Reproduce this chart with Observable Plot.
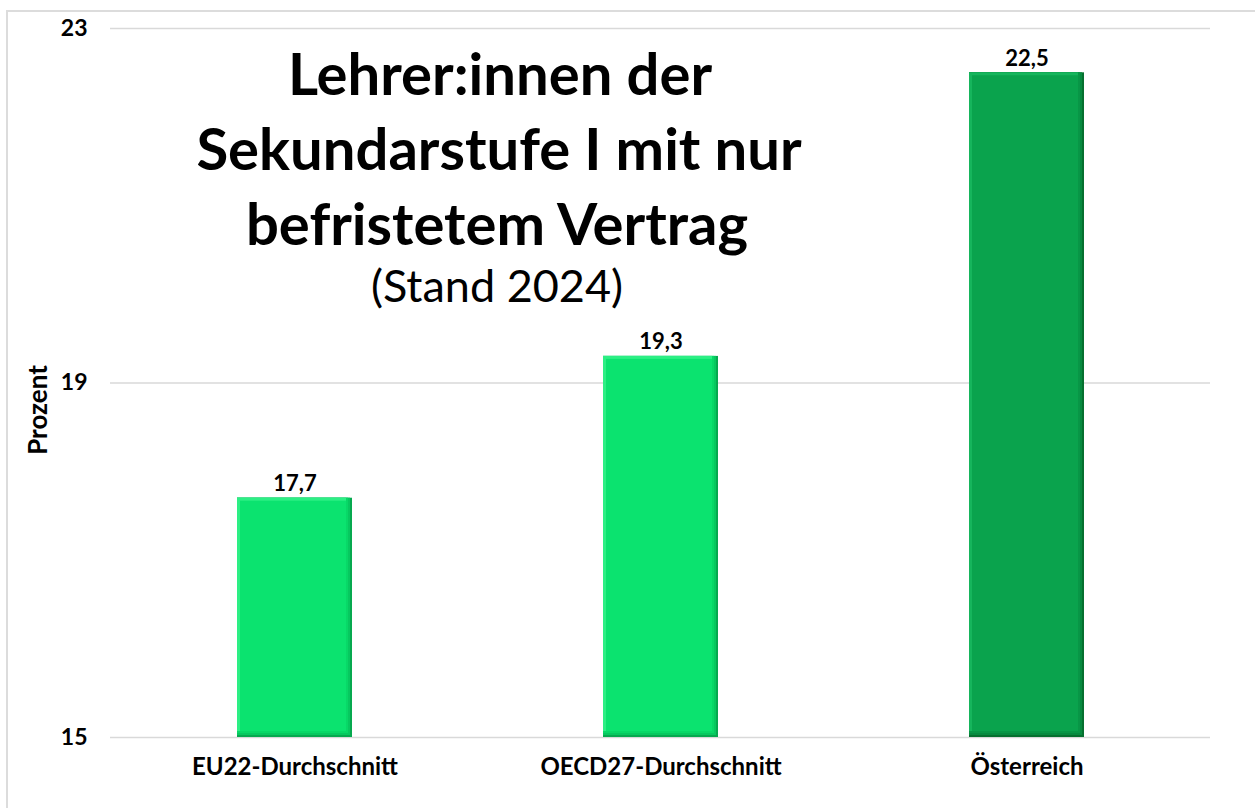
<!DOCTYPE html>
<html><head><meta charset="utf-8">
<script src="https://cdn.jsdelivr.net/npm/d3@7"></script>
<script src="https://cdn.jsdelivr.net/npm/@observablehq/plot@0.6"></script>
<style>
html,body{margin:0;padding:0;background:#fff;}
#wrap{position:relative;width:1255px;height:808px;overflow:hidden;font-family:Lato,"Open Sans",sans-serif;}
#frame{position:absolute;left:6px;top:10px;width:1300px;height:900px;border:2px solid #dcdcdc;box-sizing:border-box;}
#chart{position:absolute;left:0;top:0;}
#title{position:absolute;left:0;top:0;pointer-events:none;}
</style></head>
<body><div id="wrap"><div id="frame"></div><div id="chart"></div>
<svg id="title" width="1255" height="808" font-family="Lato, 'Open Sans', sans-serif" text-anchor="middle" fill="#000">
  <text x="500" y="95" font-size="58" font-weight="700">Lehrer:innen der</text>
  <text x="499" y="170" font-size="58" font-weight="700">Sekundarstufe I mit nur</text>
  <text x="497" y="245" font-size="58" font-weight="700">befristetem Vertrag</text>
  <text x="497" y="302" font-size="45" font-weight="400">(Stand 2024)</text>
  <text transform="translate(47,410) rotate(-90)" font-size="26" font-weight="700">Prozent</text>
</svg>
</div>
<script>
const categories = ["EU22-Durchschnitt", "OECD27-Durchschnitt", "Österreich"];
const values = [17.7, 19.3, 22.5];
const labels = ["17,7", "19,3", "22,5"];
const yTicks = [15, 19, 23];
const highlight = [false, false, true];

const data = categories.map((c, i) => ({cat: c, v: values[i], label: labels[i], hi: highlight[i]}));
const font = "Lato, 'Open Sans', sans-serif";
const pal = (light, dark) => d => d.hi ? dark : light;

const chart = Plot.plot({
  width: 1255, height: 808,
  marginLeft: 110, marginRight: 45, marginTop: 28, marginBottom: 71,
  style: {fontFamily: font, background: "transparent", overflow: "visible"},
  x: {domain: categories, paddingInner: 0.686, paddingOuter: 0.343, label: null},
  y: {domain: [15, 23], ticks: yTicks, label: null},
  marks: [
    Plot.gridY(yTicks, {stroke: "#d9d9d9", strokeOpacity: 1, strokeWidth: 1.5}),
    Plot.barY(data, {x: "cat", y1: 15, y2: "v", fill: pal("#06a94f", "#06702f")}),
    Plot.barY(data, {x: "cat", y1: 15, y2: "v", fill: pal("#07c85f", "#078a3f"), insetRight: 2, insetBottom: 2}),
    Plot.barY(data, {x: "cat", y1: 15, y2: "v", fill: pal("#08d867", "#089646"), insetRight: 4, insetBottom: 4}),
    Plot.barY(data, {x: "cat", y1: 15, y2: "v", fill: pal("#2cef84", "#16b55c"), insetRight: 6, insetBottom: 6}),
    Plot.barY(data, {x: "cat", y1: 15, y2: "v", fill: pal("#0be36f", "#0aa34d"), insetLeft: 3, insetTop: 3, insetRight: 6, insetBottom: 6}),
    Plot.text(data, {x: "cat", y: "v", text: "label", lineAnchor: "bottom", dy: -7, fontWeight: 700, fontSize: 22, fill: "#000", ariaLabel: "values"}),
    Plot.axisY({ticks: yTicks, tickSize: 0, tickPadding: 23, fontWeight: 700, fill: "#000", label: null}),
    Plot.axisX({tickSize: 0, tickPadding: 20, fontWeight: 700, fill: "#000", label: null})
  ]
});
chart.querySelectorAll("text").forEach(t => t.setAttribute("fill", "#000"));
const setSize = (sel, s) => chart.querySelectorAll(sel).forEach(g => { g.setAttribute("font-size", s); g.style.fontSize = s + "px"; g.querySelectorAll("text").forEach(t => { t.setAttribute("font-size", s); t.style.fontSize = s + "px"; }); });
setSize('g[aria-label="y-axis tick label"]', 23);
setSize('g[aria-label="x-axis tick label"]', 24);
setSize('g[aria-label="values"]', 22);
document.getElementById("chart").appendChild(chart);
</script>
</body></html>
